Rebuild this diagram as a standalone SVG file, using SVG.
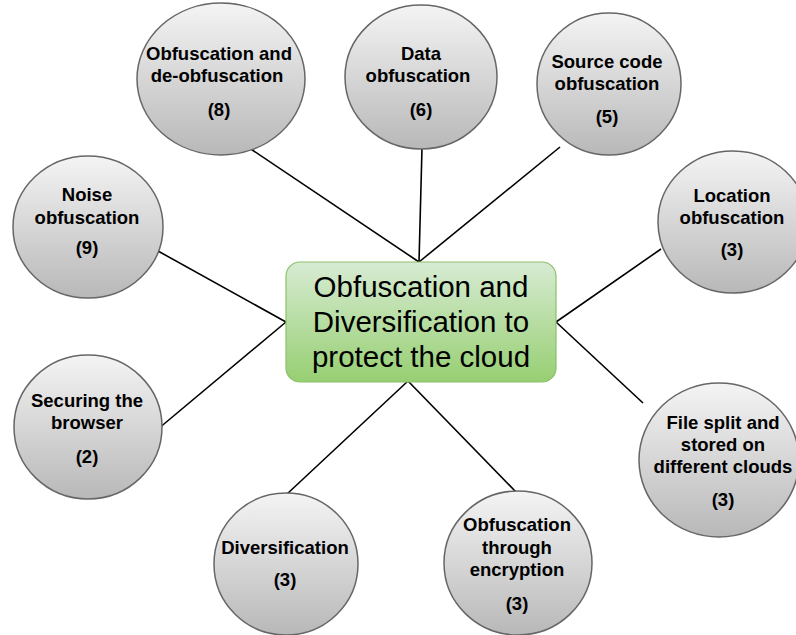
<svg xmlns="http://www.w3.org/2000/svg" width="796" height="635" viewBox="0 0 796 635">
<defs>
<linearGradient id="gGray" x1="0" y1="0" x2="0" y2="1">
<stop offset="0" stop-color="#f4f4f4"/>
<stop offset="1" stop-color="#b8b8b8"/>
</linearGradient>
<linearGradient id="gGreen" x1="0" y1="0" x2="0" y2="1">
<stop offset="0" stop-color="#d7ebd3"/>
<stop offset="1" stop-color="#97cf72"/>
</linearGradient>
<style>
.c{fill:url(#gGray);stroke:#666;stroke-width:1.5}
.t{font-family:"Liberation Sans",Arial,Helvetica,sans-serif;font-weight:bold;font-size:18.5px;fill:#000;text-anchor:middle}
.m{font-family:"Liberation Sans",Arial,Helvetica,sans-serif;font-size:29.5px;fill:#000;text-anchor:middle}
.l{stroke:#000;stroke-width:1.6;fill:none}
</style>
</defs>
<rect width="796" height="635" fill="#fff"/>
<g id="connectors">
<line class="l" x1="230" y1="135" x2="419" y2="262"/>
<line class="l" x1="422" y1="148" x2="419" y2="262"/>
<line class="l" x1="560" y1="147" x2="419" y2="262"/>
<line class="l" x1="158" y1="251" x2="286" y2="322"/>
<line class="l" x1="158" y1="429" x2="286" y2="322"/>
<line class="l" x1="661" y1="249" x2="556" y2="322"/>
<line class="l" x1="643" y1="403" x2="556" y2="322"/>
<line class="l" x1="287" y1="494" x2="408" y2="381"/>
<line class="l" x1="517" y1="493" x2="408" y2="381"/>
</g>
<g id="center">
<rect x="286" y="262" width="270" height="120" rx="14" fill="url(#gGreen)" stroke="#8cc06a" stroke-width="1.2"/>
<text class="m" x="421" y="297">Obfuscation and</text>
<text class="m" x="421" y="332">Diversification to</text>
<text class="m" x="421" y="367">protect the cloud</text>
</g>
<g id="n-deobf">
<ellipse class="c" cx="221" cy="79" rx="84" ry="76"/>
<text class="t" x="219" y="60">Obfuscation and</text>
<text class="t" x="217" y="82">de-obfuscation</text>
<text class="t" x="219" y="116">(8)</text>
</g>
<g id="n-data">
<ellipse class="c" cx="421" cy="77" rx="76" ry="72"/>
<text class="t" x="421" y="60">Data</text>
<text class="t" x="418" y="82">obfuscation</text>
<text class="t" x="421" y="116">(6)</text>
</g>
<g id="n-source">
<ellipse class="c" cx="609" cy="84" rx="72" ry="71"/>
<text class="t" x="607" y="68">Source code</text>
<text class="t" x="607" y="90">obfuscation</text>
<text class="t" x="607" y="123">(5)</text>
</g>
<g id="n-noise">
<ellipse class="c" cx="88" cy="227" rx="75" ry="71"/>
<text class="t" x="87" y="201">Noise</text>
<text class="t" x="87" y="224">obfuscation</text>
<text class="t" x="87" y="254">(9)</text>
</g>
<g id="n-location">
<ellipse class="c" cx="733" cy="222" rx="75" ry="71"/>
<text class="t" x="732" y="202">Location</text>
<text class="t" x="732" y="224">obfuscation</text>
<text class="t" x="732" y="256">(3)</text>
</g>
<g id="n-browser">
<ellipse class="c" cx="88" cy="427" rx="74" ry="72"/>
<text class="t" x="87" y="407">Securing the</text>
<text class="t" x="87" y="429">browser</text>
<text class="t" x="87" y="463">(2)</text>
</g>
<g id="n-filesplit">
<ellipse class="c" cx="719" cy="460" rx="80" ry="77"/>
<text class="t" x="723" y="429">File split and</text>
<text class="t" x="723" y="451">stored on</text>
<text class="t" x="723" y="473">different clouds</text>
<text class="t" x="723" y="506">(3)</text>
</g>
<g id="n-divers">
<ellipse class="c" cx="286" cy="564" rx="72" ry="71"/>
<text class="t" x="285" y="554">Diversification</text>
<text class="t" x="285" y="586">(3)</text>
</g>
<g id="n-encrypt">
<ellipse class="c" cx="518" cy="563" rx="74" ry="72"/>
<text class="t" x="517" y="531">Obfuscation</text>
<text class="t" x="517" y="554">through</text>
<text class="t" x="517" y="576">encryption</text>
<text class="t" x="517" y="610">(3)</text>
</g>
</svg>
